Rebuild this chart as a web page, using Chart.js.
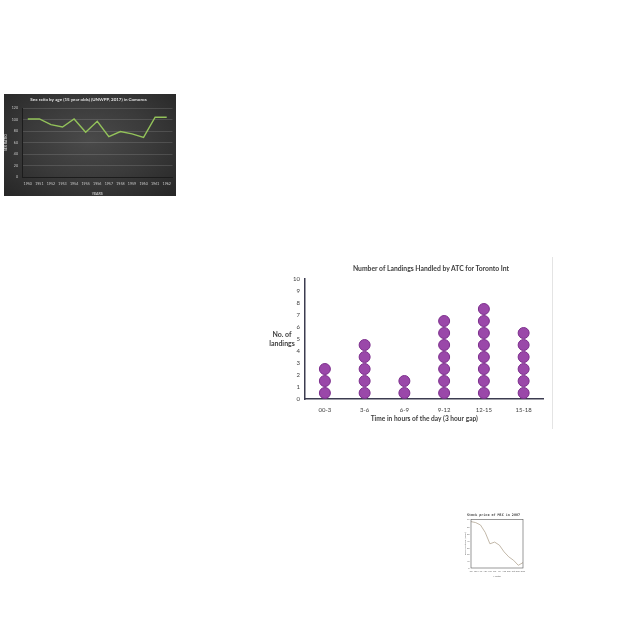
<!DOCTYPE html>
<html>
<head>
<meta charset="utf-8">
<script src="https://cdn.jsdelivr.net/npm/chart.js@4.4.1/dist/chart.umd.min.js"></script>
<style>
  html,body{margin:0;padding:0;background:#fff;width:640px;height:640px;overflow:hidden;}
  .box{position:absolute;}
  canvas{display:block;}
  #ylab{position:absolute;left:262px;top:330px;width:40px;text-align:center;font:bold 7px Lato, 'Open Sans', sans-serif;color:#404040;line-height:9px;}
  #dotTitle{position:absolute;left:331px;top:264px;width:200px;text-align:center;font:bold 6.8px Lato, 'Open Sans', sans-serif;color:#404040;line-height:9px;white-space:nowrap;}
  #edge{position:absolute;left:552px;top:257px;width:1px;height:172px;background:#e4e4e4;}
</style>
</head>
<body>
<div class="box" id="darkBox" style="left:4px;top:94px;width:172px;height:102px;background:radial-gradient(ellipse at 50% 45%, #4a4a4a 0%, #3a3a3a 50%, #262626 100%);">
  <canvas id="c1" width="172" height="102"></canvas>
</div>
<div class="box" style="left:250px;top:258px;width:300px;height:172px;">
  <canvas id="c2" width="300" height="172"></canvas>
</div>
<div id="dotTitle"></div>
<div id="ylab">No. of<br>landings</div>
<div id="edge"></div>
<div class="box" style="left:464px;top:510px;width:68px;height:68px;background:#fff;">
  <canvas id="c3" width="68" height="68"></canvas>
</div>
<script>
// ---------- Chart 1: Sex ratio (dark) ----------
const years = ['1950','1951','1952','1953','1954','1955','1956','1957','1958','1959','1960','1961','1962'];
const sexRatio = [101, 101, 91, 87, 101, 78, 97, 70, 79, 75, 69, 104, 104];
const darkTitle = 'Sex ratio by age (15 year olds) (UNWPP, 2017) in Comoros';

// ---------- Chart 2: Landings dot plot ----------
const timeSlots = ['00-3','3-6','6-9','9-12','12-15','15-18'];
const landings = [3, 5, 2, 7, 8, 6];
const dotTitle = 'Number of Landings Handled by ATC for Toronto Int';
const dotXTitle = 'Time in hours of the day (3 hour gap)';

// ---------- Chart 3: Stock price ----------
const months = ['Jan','Feb','Mar','Apr','May','Jun','Jul','Aug','Sep','Oct','Nov','Dec'];
const stockPrice = [69, 67.5, 64, 53, 36, 38.5, 34, 24, 16.5, 11.5, 4, 8];
const stockTitle = 'Stock price of MSC in 2007';

document.getElementById('dotTitle').textContent = dotTitle;
Chart.defaults.font.family = "Lato, 'Open Sans', sans-serif";

new Chart(document.getElementById('c1'), {
  type: 'line',
  data: { labels: years, datasets: [{ data: sexRatio, borderColor: '#93c25a', borderWidth: 1.4, pointRadius: 0, tension: 0 }] },
  options: {
    responsive: false, animation: false,
    layout: { padding: { right: 3, left: 0, top: 0, bottom: 0 } },
    plugins: {
      legend: { display: false }, tooltip: { enabled: false },
      title: { display: true, text: darkTitle, color: '#e0e0e0', font: { size: 4.5, weight: 'bold' }, padding: { top: 3, bottom: 5.6 } }
    },
    scales: {
      x: { type: 'category', offset: true,
        grid: { display: false, drawTicks: false },
        border: { color: '#1c1c1c', width: 1 },
        ticks: { color: '#c8c8c8', font: { size: 3.6 }, padding: 5, maxRotation: 0, autoSkip: false },
        title: { display: true, text: 'YEARS', color: '#c8c8c8', font: { size: 3.6, weight: 'bold' }, padding: { top: 2, bottom: 0 } },
        afterFit: s => { s.height = 19; } },
      y: { min: 0, max: 120,
        grid: { color: 'rgba(255,255,255,0.13)', drawTicks: false },
        border: { color: '#1c1c1c', width: 1 },
        ticks: { stepSize: 20, color: '#c8c8c8', font: { size: 3.6 }, padding: 4 },
        title: { display: true, text: 'SEX RATIO', color: '#c8c8c8', font: { size: 3.4, weight: 'bold' }, padding: 0 },
        afterFit: s => { s.width = 18; } }
    }
  }
});

const dotPoints = [];
landings.forEach((n, i) => { for (let k = 0; k < n; k++) dotPoints.push({ x: timeSlots[i], y: k + 0.5 }); });

new Chart(document.getElementById('c2'), {
  type: 'scatter',
  data: { labels: timeSlots, datasets: [{ data: dotPoints, backgroundColor: '#9a48a9', borderColor: '#7d2f8d', borderWidth: 1, pointRadius: 5.5, pointHoverRadius: 5.5 }] },
  options: {
    responsive: false, animation: false,
    layout: { padding: { right: 5, left: 0, top: 21, bottom: 0 } },
    plugins: {
      legend: { display: false }, tooltip: { enabled: false },
      title: { display: false }
    },
    scales: {
      x: { type: 'category', labels: timeSlots, offset: true,
        grid: { display: false, drawTicks: false },
        border: { color: '#3c3c50', width: 1.5 },
        ticks: { color: '#404040', font: { size: 6 }, padding: 7, maxRotation: 0 },
        title: { display: true, text: dotXTitle, color: '#404040', font: { size: 6.6, weight: 'bold' }, padding: { top: 1, bottom: 7 } },
        afterFit: s => { s.height = 31; } },
      y: { min: 0, max: 10,
        grid: { display: false, drawTicks: false },
        border: { color: '#3c3c50', width: 1.5 },
        ticks: { stepSize: 1, color: '#404040', font: { size: 6 }, padding: 5 },
        afterFit: s => { s.width = 55; } }
    }
  }
});

const frame = { id: 'frame', afterDraw(chart) {
  const a = chart.chartArea, ctx = chart.ctx;
  ctx.save(); ctx.strokeStyle = '#555'; ctx.lineWidth = 0.6; ctx.strokeRect(a.left, a.top, a.right - a.left, a.bottom - a.top); ctx.restore();
} };

new Chart(document.getElementById('c3'), {
  type: 'line',
  data: { labels: months, datasets: [{ data: stockPrice, borderColor: '#b3a693', borderWidth: 0.8, pointRadius: 0, tension: 0 }] },
  options: {
    responsive: false, animation: false,
    layout: { padding: { right: 9, left: 0, top: 0, bottom: 0 } },
    plugins: {
      legend: { display: false }, tooltip: { enabled: false },
      title: { display: true, text: stockTitle, color: '#444', font: { size: 3.4, family: "'DejaVu Sans Mono', monospace" }, padding: { top: 3, bottom: 2.5 } }
    },
    scales: {
      x: { offset: false,
        grid: { display: false, drawTicks: true, tickLength: 1, color: '#555' },
        border: { display: false },
        ticks: { color: '#666', font: { size: 2.2 }, padding: 0.5, maxRotation: 0, autoSkip: false },
        title: { display: true, text: 'Month', color: '#666', font: { size: 2.6 }, padding: 0 },
        afterFit: s => { s.height = 10; } },
      y: { min: 0, max: 72,
        grid: { display: false, drawTicks: true, tickLength: 1, color: '#555' },
        border: { display: false },
        ticks: { stepSize: 10, color: '#666', font: { size: 2.2 }, padding: 0.5 },
        title: { display: true, text: 'Price of stock (USD)', color: '#666', font: { size: 2.6 }, padding: 0 },
        afterFit: s => { s.width = 7; } }
    }
  },
  plugins: [frame]
});
</script>
</body>
</html>
